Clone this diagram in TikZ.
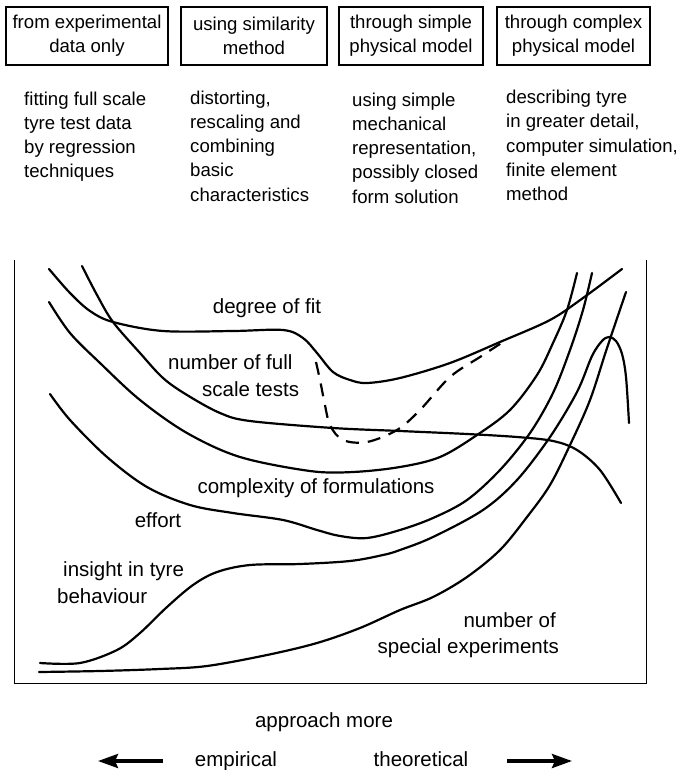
\documentclass[tikz,border=0pt]{standalone}
\usepackage{fontspec}
\setmainfont{Liberation Sans}
\usetikzlibrary{arrows.meta}
\begin{document}
\begin{tikzpicture}[x=1pt,y=-1pt,
  curve/.style={line width=2.2pt, line cap=round, line join=round},
  dashcurve/.style={curve, line cap=butt, dash pattern=on 13pt off 9pt},
  hdrbox/.style={draw, line width=1.3pt, minimum width=#1, minimum height=58pt, inner sep=0pt, align=center, font=\fontsize{18.6}{24}\selectfont},
  desc/.style={anchor=west, inner sep=0pt, align=left, font=\fontsize{18.6}{24.2}\selectfont},
  lbl/.style={inner sep=0pt, font=\fontsize{20.5}{27}\selectfont},
  dirarrow/.style={line width=3.4pt, -{Stealth[length=20pt,width=14pt,inset=3pt]}}]
\useasboundingbox (0,0) rectangle (683,770);

% header boxes
\node[hdrbox=162pt] (h1) at (87,36) {from experimental\\data only};
\node[hdrbox=146pt] (h2) at (254,36) {using similarity\\method};
\node[hdrbox=144pt] (h3) at (411,36) {through simple\\physical model};
\node[hdrbox=153pt] (h4) at (573.5,36) {through complex\\physical model};

% descriptions
\node[desc] (d1) at (24,136.5) {fitting full scale\\tyre test data\\by regression\\techniques};
\node[desc] (d2) at (190,146) {distorting,\\rescaling and\\combining\\basic\\characteristics};
\node[desc] (d3) at (352,148) {using simple\\mechanical\\representation,\\possibly closed\\form solution};
\node[desc] (d4) at (506,145.5) {describing tyre\\in greater detail,\\computer simulation,\\finite element\\method};

% frame (open at top)
\coordinate (ftl) at (14,260);
\coordinate (fbl) at (14,683);
\coordinate (fbr) at (646,683);
\coordinate (ftr) at (646,260);
\draw[line width=1pt] (ftl) -- (fbl) -- (fbr) -- (ftr);

% degree of fit
\draw[curve] plot[smooth, tension=0.55] coordinates {(49,269) (70,293) (90,311) (113,322) (163,331) (233,331) (283,330) (303,338) (317,353) (333,372) (350,380) (367,383) (400,378) (450,363) (500,342) (550,320) (583,298) (622,269)};
% number of full scale tests
\draw[curve] plot[smooth, tension=0.55] coordinates {(82,266) (97,295) (113,322) (140,353) (163,378) (187,395) (220,413) (250,421) (333,428) (400,431) (467,434) (517,437) (553,441) (577,450) (600,470) (621,503)};
% complexity of formulations
\draw[curve] plot[smooth, tension=0.55] coordinates {(49,302) (70,333) (100,363) (140,400) (187,433) (240,457) (310,471) (353,472) (400,467) (440,457) (477,435) (510,410) (537,375) (553,343) (567,310) (577,273)};
% effort
\draw[curve] plot[smooth, tension=0.55] coordinates {(50,394) (70,420) (107,457) (147,487) (190,505) (233,513) (283,520) (317,530) (340,536) (367,538) (400,530) (433,518) (467,500) (500,470) (530,433) (553,393) (570,350) (583,310) (592,273)};
% insight in tyre behaviour
\draw[curve] plot[smooth, tension=0.55] coordinates {(40,663) (80,663) (117,650) (140,633) (167,607) (193,585) (217,572) (250,565) (300,564) (350,561) (383,555) (400,550) (433,537) (483,510) (517,480) (550,437) (577,392) (592,356) (602,341) (609,337) (616,341) (622,354) (626,377) (629,423)};
% number of special experiments
\draw[curve] plot[smooth, tension=0.55] coordinates {(39,672) (100,671) (160,669) (207,666) (267,655) (317,643) (360,628) (400,610) (433,597) (467,577) (500,550) (527,517) (550,485) (570,445) (590,400) (607,348) (626,292)};
% dashed
\draw[dashcurve] plot[smooth, tension=0.55] coordinates {(316,362) (320,380) (324,400) (330,425) (343,440) (367,442) (397,430) (420,410) (450,377) (480,357) (503,342)};

% curve labels
\node[lbl, anchor=base] (l1) at (267,313) {degree of fit};
\node[lbl, anchor=base west] (l2) at (168,369) {number of full};
\node[lbl, anchor=base west] (l3) at (202,396) {scale tests};
\node[lbl, anchor=base] (l4) at (316,493) {complexity of formulations};
\node[lbl, anchor=base] (l5) at (158,527) {effort};
\node[lbl, anchor=base west] (l6) at (63,576) {insight in tyre};
\node[lbl, anchor=base west] (l7) at (57,603) {behaviour};
\node[lbl, anchor=base east] (l8) at (556,627) {number of};
\node[lbl, anchor=base east] (l9) at (559,653) {special experiments};

% bottom
\node[lbl, anchor=base] (ap) at (324,727) {approach more};
\node[lbl, anchor=base] (emp) at (236,766) {empirical};
\node[lbl, anchor=base] (theo) at (421,766) {theoretical};
\coordinate (la) at (163,761);
\coordinate (lb) at (98,761);
\coordinate (ra) at (507,761);
\coordinate (rb) at (572,761);
\draw[dirarrow] (la) -- (lb);
\draw[dirarrow] (ra) -- (rb);
\end{tikzpicture}
\end{document}
